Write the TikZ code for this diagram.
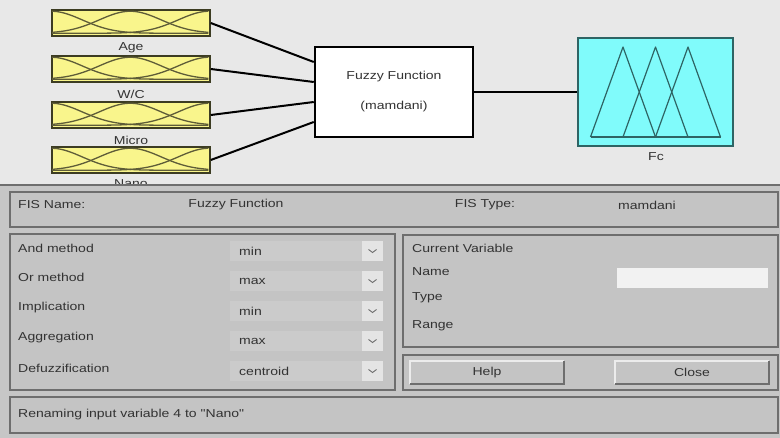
\documentclass[tikz,border=0pt]{standalone}
\usepackage{fontspec}
\setmainfont{Liberation Sans}[FakeStretch=1.22,Ligatures=TeXOff]
\definecolor{topbg}{HTML}{E8E8E8}
\definecolor{botbg}{HTML}{C6C6C6}
\definecolor{panelc}{HTML}{C4C4C4}
\definecolor{edgec}{HTML}{6E6E6E}
\definecolor{txtc}{HTML}{333333}
\definecolor{yel}{HTML}{F9F58C}
\definecolor{yeledge}{HTML}{3C3C22}
\definecolor{mfc}{HTML}{5E5C38}
\definecolor{cyanf}{HTML}{80FBFB}
\definecolor{cyane}{HTML}{2E6464}
\definecolor{fieldc}{HTML}{CBCBCB}
\definecolor{arrowbg}{HTML}{E4E4E4}
\begin{document}
\begin{tikzpicture}[x=1pt,y=-1pt,
  txt/.style={text=txtc,font=\fontsize{11.5}{13}\selectfont,inner sep=0pt},
  inbox/.style={draw=yeledge,fill=yel,line width=1.5pt,minimum width=158pt,minimum height=26pt,inner sep=0pt},
  mf/.style={draw=mfc,line width=1.3pt},
  wire/.style={draw=black,line width=2pt},
  panel/.style={draw=edgec,fill=panelc,line width=1.6pt,inner sep=0pt},
  field/.style={fill=fieldc,draw=none,minimum width=153pt,minimum height=20pt,inner sep=0pt},
  ddbtn/.style={fill=arrowbg,draw=none,minimum width=21pt,minimum height=20pt,inner sep=0pt},
  btn/.style={fill=panelc,draw=none,minimum width=154pt,minimum height=23pt,inner sep=0pt,text=txtc,font=\fontsize{11.5}{13}\selectfont}]
\useasboundingbox (0,0) rectangle (780,438);
% backgrounds
\fill[topbg] (0,0) rectangle (780,185);
% input boxes
\node[inbox] (age) at (131,23) {};
\node[inbox] (wc) at (131,69) {};
\node[inbox] (micro) at (131,115) {};
\node[inbox] (nano) at (131,160) {};
\foreach \n in {age,wc,micro,nano}{
  \begin{scope}[shift={(\n.north west)}]
    \clip (0.8,0.8) rectangle (157.2,25.2);
    \foreach \c in {0,79,158}
      \draw[mf] plot[domain=0:158,samples=60] (\x,{2+22*(1-exp(0-0.5*((\x-\c)/31)^2))});
  \end{scope}
}
\node[txt] (agel) at (131,48) {Age};
\node[txt] (wcl) at (131,94) {W/C};
\node[txt] (microl) at (131,140) {Micro};
\node[txt] (nanol) at (131,184) {Nano};
% FIS box
\node[draw=black,fill=white,line width=2.5pt,minimum width=158pt,minimum height=90pt,inner sep=0pt,align=center,
  text=txtc,font=\fontsize{11.5}{30}\selectfont] (fis) at (394,92) {Fuzzy Function\\(mamdani)};
% output box
\node[draw=cyane,fill=cyanf,line width=1.5pt,minimum width=155pt,minimum height=108pt,inner sep=0pt] (out) at (655.5,92) {};
\begin{scope}[shift={(out.center)},draw=cyane,line width=1.2pt,line join=round]
  \draw (-65,45) -- (-32.5,-45) -- (0,45);
  \draw (-32.5,45) -- (0,-45) -- (32.5,45);
  \draw (0,45) -- (32.5,-45) -- (65,45);
  \draw (-65,45) -- (65,45);
\end{scope}
\node[txt] (fcl) at (656,157) {Fc};
% wires
\draw[wire] (age.east) -- ([yshift=30pt]fis.west);
\draw[wire] (wc.east) -- ([yshift=10pt]fis.west);
\draw[wire] (micro.east) -- ([yshift=-10pt]fis.west);
\draw[wire] (nano.east) -- ([yshift=-30pt]fis.west);
\draw[wire] (fis.east) -- (out.west);
% bottom area
\fill[botbg] (0,185) rectangle (780,438);
\draw[edgec,line width=2pt] (0,185) -- (780,185);
% FIS name panel
\node[panel,minimum width=768pt,minimum height=35pt] (namep) at (394,209.5) {};
\node[txt,anchor=west] (fisname) at (18,205) {FIS Name:};
\node[txt] (fisnamev) at (236,205) {Fuzzy Function};
\node[txt] (fistype) at (485,205) {FIS Type:};
\node[txt] (fistypev) at (647,205) {mamdani};
% left panel
\node[panel,minimum width=385pt,minimum height=156pt] (leftp) at (202.5,312) {};
\foreach \lab/\val/\ly/\fy/\nm in {And method/min/248/251/a,Or method/max/277/281/b,Implication/min/308/311/c,Aggregation/max/338/341/d,Defuzzification/centroid/368/371/e}{
  \node[txt,anchor=west] (lab\nm) at (18,\ly) {\lab};
  \node[field] (fld\nm) at (306.5,\fy) {};
  \node[ddbtn] (dd\nm) at (372.5,\fy) {};
  \draw[edgec,line width=0.9pt] ([xshift=-4pt,yshift=1.5pt]dd\nm.center) -- ([yshift=-1.5pt]dd\nm.center) -- ([xshift=4pt,yshift=1.5pt]dd\nm.center);
  \node[txt,anchor=west] (val\nm) at (239,\fy) {\val};
}
% current variable panel
\node[panel,minimum width=375pt,minimum height=112pt] (rightp) at (590.5,291) {};
\node[txt,anchor=west] (curv) at (412,248) {Current Variable};
\node[txt,anchor=west] (namel) at (412,272) {Name};
\node[fill=white!95!black,draw=none,minimum width=151pt,minimum height=20pt,inner sep=0pt] (namef) at (692.5,278) {};
\node[txt,anchor=west] (typel) at (412,298) {Type};
\node[txt,anchor=west] (rangel) at (412,326) {Range};
% buttons panel
\node[panel,minimum width=375pt,minimum height=35pt] (btnp) at (590.5,372.5) {};
\node[btn] (help) at (487,372.5) {Help};
\node[btn] (close) at (692,372.5) {Close};
\foreach \b in {help,close}{
  \draw[white!85!gray,line width=1.5pt] (\b.south west) -- (\b.north west) -- (\b.north east);
  \draw[edgec,line width=1.8pt] (\b.north east) -- (\b.south east) -- (\b.south west);
}
% status bar
\node[panel,minimum width=768pt,minimum height=36pt] (status) at (394,415) {};
\node[txt,anchor=west] (statust) at (18,415) {Renaming input variable 4 to "Nano"};
\end{tikzpicture}
\end{document}
